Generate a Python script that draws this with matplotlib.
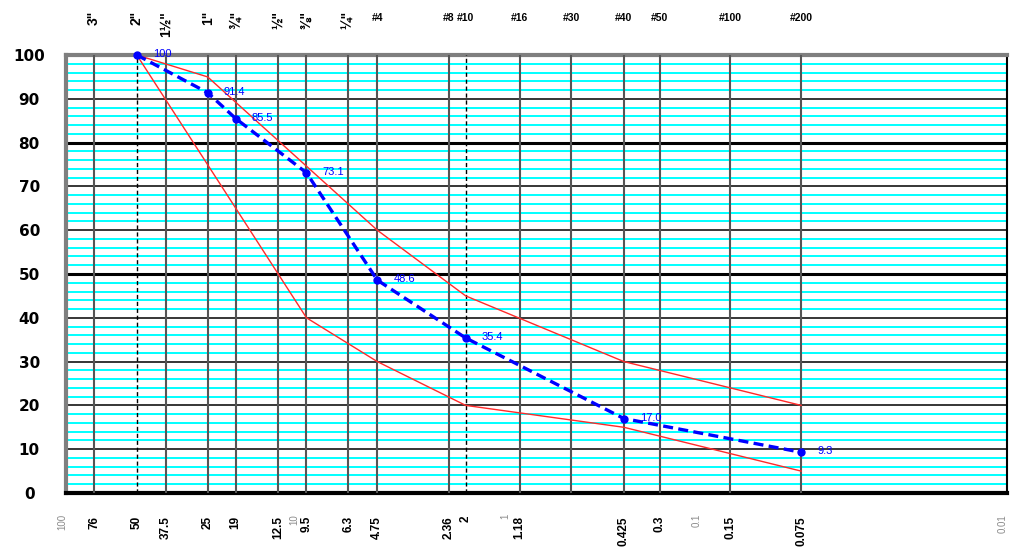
import matplotlib
matplotlib.use("Agg")
import matplotlib.pyplot as plt
import matplotlib.transforms as mtransforms
import numpy as np

plt.rcParams['font.family'] = ['Liberation Sans', 'DejaVu Sans']

# sieve openings (mm) and % passing of the sample
sieves = [50, 25, 19, 9.5, 4.75, 2.0, 0.425, 0.075]
passing = [100, 91.4, 85.5, 73.1, 48.6, 35.4, 17.0, 9.3]
value_text = ["100", "91.4", "85.5", "73.1", "48.6", "35.4", "17.0", "9.3"]

# specification envelope
upper_size = [50, 25, 4.75, 2.0, 0.425, 0.075]
upper_pass = [100, 95, 60, 45, 30, 20]
lower_size = [50, 9.5, 4.75, 2.0, 0.425, 0.075]
lower_pass = [100, 40, 30, 20, 15, 5]

# vertical grid lines and labels
grid_sizes = [76, 50, 37.5, 25, 19, 12.5, 9.5, 6.3, 4.75, 2.36, 2.0, 1.18,
              0.71, 0.425, 0.3, 0.15, 0.075]
dashed_sizes = [50, 2.0]
bottom_labels = [(76, "76"), (50, "50"), (37.5, "37.5"), (25, "25"), (19, "19"),
                 (12.5, "12.5"), (9.5, "9.5"), (6.3, "6.3"), (4.75, "4.75"),
                 (2.36, "2.36"), (2.0, "2"), (1.18, "1.18"), (0.425, "0.425"),
                 (0.3, "0.3"), (0.15, "0.15"), (0.075, "0.075")]
decade_labels = [(104, "100"), (10.7, "10"), (1.36, "1"), (0.208, "0.1"), (0.0104, "0.01")]
inch_labels = [(76, '3"'), (50, '2"'), (37.5, '1½"'), (25, '1"'), (19, '¾"'),
               (12.5, '½"'), (9.5, '⅜"'), (6.3, '¼"')]
no_labels = [(4.75, "#4"), (2.36, "#8"), (2.0, "#10"), (1.18, "#16"), (0.71, "#30"),
             (0.425, "#40"), (0.3, "#50"), (0.15, "#100"), (0.075, "#200")]

fig = plt.figure(figsize=(10.13, 5.5), dpi=100)
ax = fig.add_axes([66 / 1013, 57 / 550, 941 / 1013, 438 / 550])
ax.set_xscale('log')
ax.set_xlim(100, 0.01)
ax.set_ylim(0, 100)

# horizontal grid: cyan every 2 %, black every 10 %
for y in range(2, 100, 2):
    if y % 10:
        ax.axhline(y, color='#00ffff', lw=1.4, zorder=1)
for y in range(10, 100, 10):
    ax.axhline(y, color='black', lw=2.2 if y in (50, 80) else 1.1, zorder=2)

for s in grid_sizes:
    if s in dashed_sizes:
        ax.axvline(s, color='black', lw=1.0, ls=(0, (3, 2)), zorder=3)
    else:
        ax.axvline(s, color='#555555', lw=1.5, zorder=3)

ax.plot(upper_size, upper_pass, color='#ff2a2a', lw=1.0, zorder=4)
ax.plot(lower_size, lower_pass, color='#ff2a2a', lw=1.0, zorder=4)
ax.plot(sieves, passing, color='#0000ff', lw=2.4, ls=(0, (3, 1.6)),
        marker='o', ms=5, zorder=5, clip_on=False)

for s, p, t in zip(sieves, passing, value_text):
    ax.annotate(t, (s, p), xytext=(16, 1), textcoords='offset pixels',
                va='center', ha='left', color='#0000ff', fontsize=8, zorder=6)

ax.set_xticks([])
ax.set_xticks([], minor=True)
ax.set_yticks(range(0, 101, 10))
ax.tick_params(axis='y', length=0, pad=26.5)
for lab in ax.get_yticklabels():
    lab.set_fontfamily('DejaVu Sans')
    lab.set_fontweight('bold')
    lab.set_fontsize(11)
    lab.set_horizontalalignment('center')

for side in ('top', 'left'):
    ax.spines[side].set_color('#7f7f7f')
    ax.spines[side].set_linewidth(3)
ax.spines['bottom'].set_color('black')
ax.spines['bottom'].set_linewidth(3)
ax.spines['right'].set_color('black')
ax.spines['right'].set_linewidth(1.5)

trans = mtransforms.blended_transform_factory(ax.transData, fig.transFigure)
for s, t in bottom_labels:
    ax.text(s, 1 - 516 / 550, t, transform=trans, rotation=90, ha='center',
            va='top', fontsize=8.5, fontweight='bold', clip_on=False)
for s, t in decade_labels:
    ax.text(s, 1 - 514 / 550, t, transform=trans, rotation=90, ha='center',
            va='top', fontsize=7, color='#8a8a8a', clip_on=False)
for s, t in inch_labels:
    ax.text(s, 1 - 11 / 550, t, transform=trans, rotation=90, ha='center',
            va='top', fontsize=10, fontweight='bold', clip_on=False)
for s, t in no_labels:
    ax.text(s, 1 - 18 / 550, t, transform=trans, ha='center',
            va='center', fontsize=7.5, fontweight='bold', clip_on=False)

fig.savefig('out.png', dpi=100)
